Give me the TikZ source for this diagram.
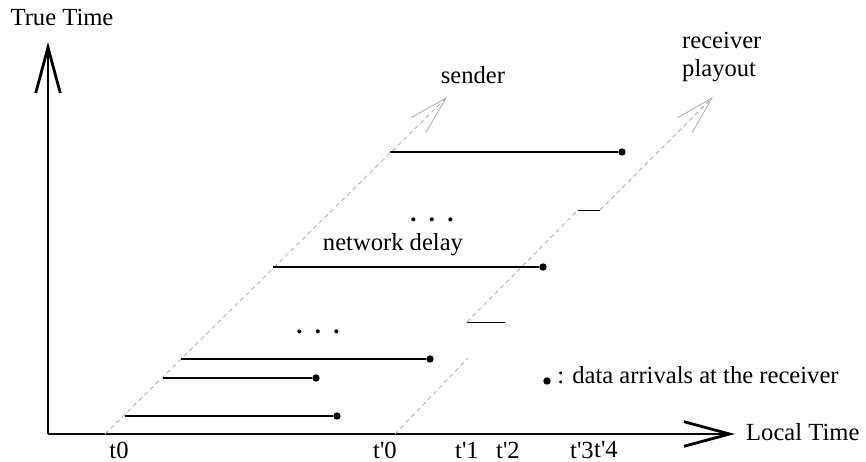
\documentclass[tikz,border=0pt]{standalone}
\usepackage{fontspec}
\setmainfont{Liberation Serif}
\usetikzlibrary{positioning,arrows.meta}
\newcommand{\pr}{\textquotesingle}

\begin{document}
\begin{tikzpicture}[x=0.02cm,y=-0.02cm,
	font=\fontsize{14}{16}\selectfont,
	dot/.style={circle,fill=black,inner sep=0pt,minimum size=4.2pt},
	faint/.style={draw=gray!65,dash pattern=on 2.5pt off 2pt,line width=0.45pt},
	faint arrow/.style={faint,-{Straight Barb[length=22pt,width=12pt,line width=0.45pt]}},
	axis/.style={line width=1.6pt,-{Straight Barb[length=26pt,width=14pt,line width=1.6pt]}},
	tick/.style={inner sep=0.5pt},
	]
	\useasboundingbox (0,0) rectangle (866,461);
	%Axes
	\coordinate (o) at (48,434);
	\coordinate (ty) at (48,42);
	\coordinate (tx) at (735,434);
	\draw[axis] (o) -- (ty);
	\draw[axis] (o) -- (tx);
	\node (truetime) at (62,17) {True Time};
	\node[anchor=west] (localtime) at (740,432) {Local Time};
	%ticks on local time
	\node[tick] (t0) at (119,450) {t0};
	\node[tick] (tp0) at (385,450) {t\pr0};
	\node[tick] (tp1) at (467,450) {t\pr1};
	\node[tick] (tp2) at (508,450) {t\pr2};
	\node[tick] (tp3) at (582,450) {t\pr3};
	\node[tick] (tp4) at (606,450) {t\pr4};
	%Sender
	\coordinate (s0) at (105,434);
	\coordinate (s1) at (447,97);
	\draw[faint arrow] (s0) -- (s1);
	\node (sender) at (473,75) {sender};
	%Receiver playout
	\coordinate (r0) at (395,434);
	\coordinate (r1) at (468,358);
	\coordinate (r2) at (467,322);
	\coordinate (r3) at (505,322);
	\coordinate (r4) at (578,210);
	\coordinate (r5) at (600,210);
	\coordinate (r6) at (713,97);
	\draw[faint] (r0) -- (r1);
	\draw[line width=0.5pt] (r2) -- (r3);
	\draw[faint] (r2) -- (r4);
	\draw[line width=0.5pt] (r4) -- (r5);
	\draw[faint arrow] (r5) -- (r6);
	\node[align=left,anchor=west] (playout) at (676,57) {receiver\\playout};
	%data sent and received
	\coordinate (d1) at (125,416);
	\coordinate (d2) at (163,378);
	\coordinate (d3) at (181,359);
	\coordinate (d4) at (273,267);
	\coordinate (d5) at (390,152);
	\node[dot] (a1) at (337,416) {};
	\node[dot] (a2) at (316,378) {};
	\node[dot] (a3) at (430,359) {};
	\node[dot] (a4) at (543,267) {};
	\node[dot] (a5) at (622,152) {};
	\draw[line width=0.8pt] (d1) -- (a1);
	\draw[line width=0.8pt] (d2) -- (a2);
	\draw[line width=0.8pt] (d3) -- (a3);
	\draw[line width=0.8pt] (d4) -- (a4);
	\draw[line width=0.8pt] (d5) -- (a5);
	\node (more1) at (318,332) {\bfseries .\hspace{7pt}.\hspace{7pt}.};
	\node (more2) at (432,220) {\bfseries .\hspace{7pt}.\hspace{7pt}.};
	\node (delay) at (393,245) {network delay};
	%key
	\node[dot] (key) at (547,381) {};
	\node[right=0pt of key,yshift=3.4pt] (keytext) {: data arrivals at the receiver};
\end{tikzpicture}
\end{document}
